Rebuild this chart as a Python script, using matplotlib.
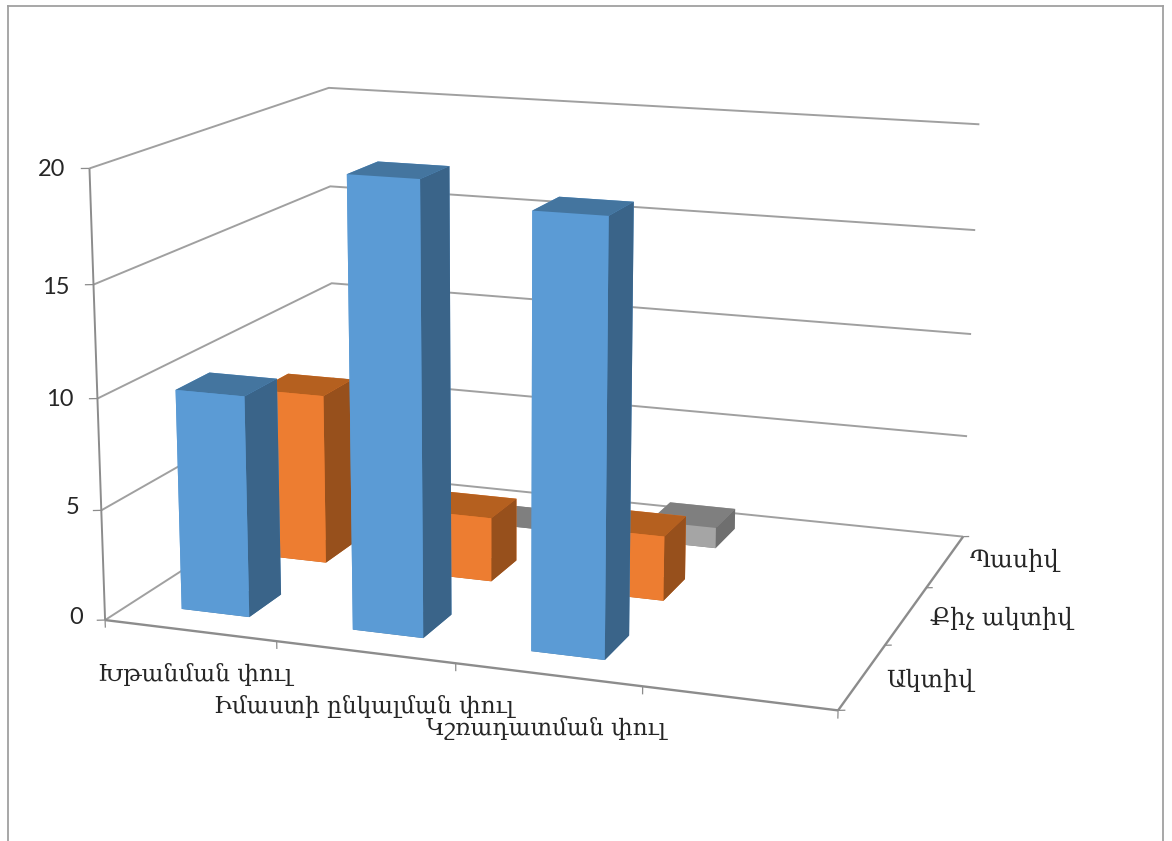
import matplotlib
matplotlib.use("Agg")
import matplotlib.pyplot as plt
from matplotlib.lines import Line2D

W, H = 1172, 841
categories = ["Խթանման փուլ", "Իմաստի ընկալման փուլ", "Կշռադատման փուլ"]
series_names = ["Ակտիվ", "Քիչ ակտիվ", "Պասիվ"]
active = [10, 20, 19]
low_active = [8, 3, 3]
passive = [0, 0, 1]
z_ticks = [0, 5, 10, 15, 20]

BAR_W = 0.4
N_X = len(categories) + 1  # the chart keeps one empty category slot on the right
N_Y = len(series_names)
Z_MAX = z_ticks[-1]

# camera fitted against the wall corners of the picture
ELEV, AZIM, ROLL, FOCAL = 13.7422, -70.8331, -0.2466, 0.5402
ASPECT = (1.6430, 1.2552, 1)
SIDE = 989.18   # axes square, pixels
LEFT = 555.355 - 13.4 - SIDE / 2
BOTTOM = H - 364.713 - 13.4 - SIDE / 2

fig = plt.figure(figsize=(W/100, H/100), dpi=100)
ax = fig.add_axes([LEFT/W, BOTTOM/H, SIDE/W, SIDE/H], projection="3d", computed_zorder=False)
ax.set_proj_type("persp", focal_length=FOCAL)
ax.view_init(ELEV, AZIM, ROLL)
ax.set_box_aspect(ASPECT)
ax.set_axis_off()
ax.patch.set_alpha(0)

GRID = "#a0a0a0"
AXIS = "#8c8c8c"


def line3(xs, ys, zs, c=GRID, lw=1.4):
    ax.plot(xs, ys, zs, color=c, lw=lw, zorder=1, solid_capstyle="butt")


# -----------------------------
# WALLS AND AXES
# -----------------------------
for v in z_ticks[1:]:
    line3([0, 0, N_X], [0, N_Y, N_Y], [v, v, v])
line3([0, N_X], [N_Y, N_Y], [0, 0])
line3([0, 0], [0, N_Y], [0, 0])
line3([0, 0], [0, 0], [0, Z_MAX], AXIS)
line3([0, N_X], [0, 0], [0, 0], AXIS, 1.7)
line3([N_X, N_X], [0, N_Y], [0, 0], AXIS, 1.7)
for v in z_ticks:
    line3([0, -0.04], [0, -0.018], [v, v], AXIS, 0.9)
for i in range(N_X + 1):
    line3([i, i], [0, 0], [0, -0.35], AXIS, 0.9)
for j in range(N_Y + 1):
    line3([N_X, N_X + 0.033], [j, j + 0.014], [0, 0], AXIS, 0.9)

# -----------------------------
# BARS, back row first
# -----------------------------
palettes = [("#5b9bd5", "#44759f", "#3a6489"),
            ("#ed7d31", "#b5601f", "#97501c"),
            ("#a5a5a5", "#7f7f7f", "#6f6f6f")]
rows = [active, low_active, passive]
order = 10
for j in (2, 1, 0):
    front, top, side = palettes[j]
    for i, v in enumerate(rows[j]):
        # a zero bar is only a flat plate, so the bottom face takes the top colour
        ax.bar3d(i + 0.5 - BAR_W/2, j + 0.5 - BAR_W/2, 0, BAR_W, BAR_W, v,
                 color=[top, top, front, front, front, side],
                 shade=False, zorder=order, edgecolor="none")
        order += 1
ax.set_xlim(0, N_X)
ax.set_ylim(0, N_Y)
ax.set_zlim(0, Z_MAX)

# -----------------------------
# TEXT
# -----------------------------
SERIF = ["DejaVu Serif", "DejaVu Sans"]
TEXT = "#262626"


def label(x, y, s, ha="left", family=SERIF, size=16.7):
    fig.text(x/W, 1 - y/H, s, ha=ha, va="center", family=family, fontsize=size, color=TEXT)


for v, x, y in zip(z_ticks, [83, 79, 74, 70, 65], [617, 508, 399, 287, 170]):
    label(x, y, str(v), ha="right", family=["Lato"], size=17)
for s, x, y in zip(categories, [98, 214, 426], [675, 706, 728]):
    label(x, y, s)
for s, x, y in zip(series_names, [886, 930, 970], [680, 618, 560]):
    label(x, y, s, size=17.3)

# outer frame of the screenshot
for xs, ys in [((7.5, 7.5), (841, 5.5)), ((7.5, 1163), (5.5, 5.5)), ((1163, 1163), (5.5, 841))]:
    fig.add_artist(Line2D([x/W for x in xs], [1 - y/H for y in ys], color="#a0a0a0", lw=1.3))

fig.savefig("out.png", dpi=100)
